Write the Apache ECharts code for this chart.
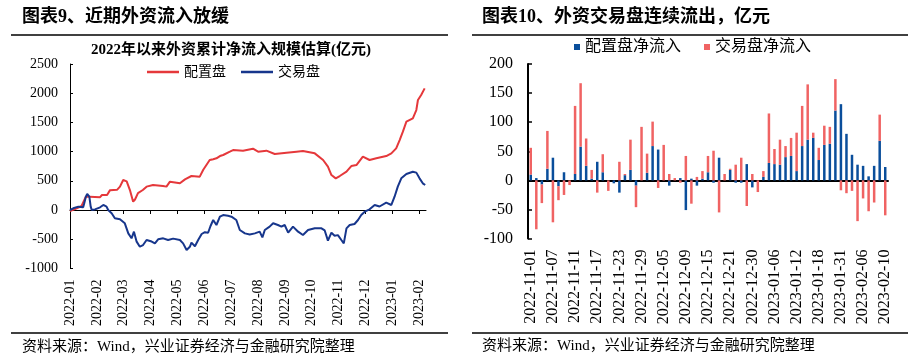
<!DOCTYPE html>
<html>
<head>
<meta charset="utf-8">
<script src="https://cdn.jsdelivr.net/npm/echarts@6/dist/echarts.min.js"></script>
<style>
html,body{margin:0;padding:0;background:#fff;}
#c{width:917px;height:362px;}
</style>
</head>
<body>
<div id="c"></div>
<script>
// ---------- Left chart: cumulative net inflow (x in month-tick units) ----------
const monthLabels = ['2022-01','2022-02','2022-03','2022-04','2022-05','2022-06','2022-07',
  '2022-08','2022-09','2022-10','2022-11','2022-12','2023-01','2023-02'];

const peizhiLine = [[0,-20],[0.25,29],[0.43,68],[0.59,228],[0.74,228],[1.12,220],[1.19,257],
  [1.38,257],[1.49,340],[1.75,345],[1.86,400],[1.98,514],[2.11,490],[2.23,342],[2.35,143],
  [2.42,180],[2.53,290],[2.71,342],[2.85,400],[3.09,428],[3.46,411],[3.59,400],[3.72,485],
  [3.97,468],[4.09,457],[4.28,525],[4.52,582],[4.83,571],[4.96,690],[5.20,856],[5.33,870],
  [5.45,885],[5.58,924],[5.70,942],[5.95,999],[6.07,1027],[6.44,1016],[6.81,1050],[7.00,999],
  [7.31,1016],[7.62,959],[8.06,982],[8.43,999],[8.67,1010],[9.11,970],[9.42,856],[9.60,742],
  [9.73,599],[9.89,542],[10.04,582],[10.29,656],[10.47,753],[10.66,770],[10.90,913],[11.15,856],
  [11.40,885],[11.77,924],[11.96,970],[12.14,1056],[12.27,1198],[12.39,1341],[12.52,1512],
  [12.76,1570],[12.89,1712],[12.95,1883],[13.07,1969],[13.20,2083]];

const jiaoyiLine = [[0,0],[0.12,29],[0.31,57],[0.49,46],[0.53,114],[0.59,228],[0.64,274],
  [0.72,228],[0.77,57],[0.81,0],[0.93,11],[1.12,46],[1.24,86],[1.36,57],[1.42,0],[1.55,-57],
  [1.67,-142],[1.86,-160],[2.04,-228],[2.17,-400],[2.29,-485],[2.38,-371],[2.48,-542],[2.60,-628],
  [2.72,-600],[2.85,-514],[3.04,-540],[3.16,-571],[3.28,-502],[3.47,-485],[3.65,-514],[3.84,-490],
  [4.09,-514],[4.21,-571],[4.34,-685],[4.46,-630],[4.52,-559],[4.65,-620],[4.77,-514],[4.90,-411],
  [5.02,-380],[5.14,-390],[5.23,-274],[5.33,-171],[5.45,-257],[5.58,-114],[5.70,-86],[5.88,-100],
  [6.01,-114],[6.19,-171],[6.32,-342],[6.51,-400],[6.69,-420],[6.88,-400],[7.06,-371],[7.16,-468],
  [7.25,-342],[7.43,-285],[7.56,-228],[7.74,-257],[7.87,-285],[7.99,-257],[8.12,-388],[8.30,-285],
  [8.49,-371],[8.67,-428],[8.86,-342],[9.11,-314],[9.36,-314],[9.48,-350],[9.60,-525],[9.73,-388],
  [9.85,-440],[9.97,-430],[10.10,-514],[10.19,-571],[10.29,-314],[10.41,-257],[10.59,-240],
  [10.72,-171],[10.84,-86],[10.97,-29],[11.15,11],[11.34,86],[11.52,60],[11.77,125],[11.96,86],
  [12.08,228],[12.20,400],[12.33,542],[12.52,616],[12.76,656],[12.89,640],[13.01,542],[13.13,457],
  [13.22,428]];

// ---------- Right chart: daily net flows ----------
const barDates = ['2022-11-01','2022-11-02','2022-11-03','2022-11-04','2022-11-07','2022-11-08',
  '2022-11-09','2022-11-10','2022-11-11','2022-11-14','2022-11-15','2022-11-16','2022-11-17',
  '2022-11-18','2022-11-21','2022-11-22','2022-11-23','2022-11-24','2022-11-25','2022-11-28',
  '2022-11-29','2022-11-30','2022-12-01','2022-12-02','2022-12-05','2022-12-06','2022-12-07',
  '2022-12-08','2022-12-09','2022-12-12','2022-12-13','2022-12-14','2022-12-15','2022-12-16',
  '2022-12-19','2022-12-20','2022-12-21','2022-12-22','2022-12-28','2022-12-29','2022-12-30',
  '2023-01-03','2023-01-04','2023-01-05','2023-01-06','2023-01-09','2023-01-10','2023-01-11',
  '2023-01-12','2023-01-13','2023-01-16','2023-01-17','2023-01-18','2023-01-19','2023-01-20',
  '2023-01-30','2023-01-31','2023-02-01','2023-02-02','2023-02-03','2023-02-06','2023-02-07',
  '2023-02-08','2023-02-09','2023-02-10'];

const peizhiBar = [10,4,-7,20,39,-10,14,0,11,58,25,3,32,14,0,-5,-21,9,18,-9,0,13,59,53,0,-9,0,4,
  -51,3,-9,3,14,-4,39,0,18,-4,-4,28,-12,0,6,30,28,27,40,42,16,59,70,73,35,61,63,120,131,80,44,
  27,25,7,25,68,23];

const jiaoyiBar = [46,-84,-32,65,-72,-24,-25,-8,117,109,47,15,-21,31,-18,0,32,2,52,-37,92,33,42,
  -13,61,11,4,-4,42,-40,6,13,28,51,-55,11,2,27,39,-44,11,-20,10,85,26,43,19,31,66,69,95,9,21,33,
  29,54,-17,-22,-18,-70,-31,-53,-38,45,-60];

const yTicksLeft = {min:-1000, max:2500, interval:500};
const yTicksRight = {min:-100, max:200, interval:50};

const FONT = "'Liberation Serif', 'Noto Sans CJK SC', serif";
const RED_LINE = '#E5383B', BLUE_LINE = '#17368C';
const BLUE_BAR = '#0A4E9B', RED_BAR = '#F06363';

const chart = echarts.init(document.getElementById('c'), null, {renderer:'canvas'});
const monthIdx = monthLabels.map((_, i) => i);
const plain = v => String(v);

const option = {
  animation: false,
  backgroundColor: '#fff',
  textStyle: {fontFamily: FONT, color: '#000'},
  grid: [
    {left: 70, top: 64, width: 356, height: 204.4},
    {left: 528, top: 64, width: 360, height: 174.6}
  ],
  legend: [
    {data: ['配置盘','交易盘'], left: 147, top: 65, padding: 0, icon: 'rect',
     itemWidth: 32, itemHeight: 2.5, itemGap: 15,
     textStyle: {fontSize: 14, fontFamily: FONT, color: '#000'}},
    {data: ['配置盘净流入','交易盘净流入'], left: 574, top: 39, padding: 0, icon: 'rect',
     itemWidth: 6, itemHeight: 6, itemGap: 23,
     textStyle: {fontSize: 16, fontFamily: FONT, color: '#000'}}
  ],
  xAxis: [
    {type: 'value', gridIndex: 0, min: 0, max: 13.25, position: 'bottom',
     axisLine: {show: false, onZero: false}, axisTick: {show: false}, splitLine: {show: false},
     axisLabel: {customValues: monthIdx, rotate: 90, margin: 11, fontSize: 14, fontFamily: FONT, color: '#000',
       formatter: v => monthLabels[Math.round(v)] || ''}},
    {type: 'value', gridIndex: 0, min: 0, max: 13.25,
     axisLine: {show: true, onZero: true, lineStyle: {color: '#000', width: 1}},
     axisTick: {show: true, inside: true, length: 4, customValues: monthIdx, lineStyle: {color: '#000'}},
     axisLabel: {show: false}, splitLine: {show: false}},
    {type: 'category', gridIndex: 1, data: barDates, position: 'bottom',
     axisLine: {show: false, onZero: false}, axisTick: {show: false},
     axisLabel: {interval: 3, rotate: 90, margin: 11, fontSize: 16, fontFamily: FONT, color: '#000'}},
    {type: 'category', gridIndex: 1, data: barDates,
     axisLine: {show: true, onZero: true, lineStyle: {color: '#000', width: 2}},
     axisTick: {show: false}, axisLabel: {show: false}}
  ],
  yAxis: [
    {type: 'value', gridIndex: 0, min: yTicksLeft.min, max: yTicksLeft.max, interval: yTicksLeft.interval,
     axisLine: {show: true, lineStyle: {color: '#000', width: 1}},
     axisTick: {show: true, inside: true, length: 3, lineStyle: {color: '#000'}},
     splitLine: {show: false},
     axisLabel: {margin: 12, fontSize: 14, fontFamily: FONT, color: '#000', formatter: plain}},
    {type: 'value', gridIndex: 1, min: yTicksRight.min, max: yTicksRight.max, interval: yTicksRight.interval,
     axisLine: {show: true, lineStyle: {color: '#000', width: 2}},
     axisTick: {show: true, inside: true, length: 4, lineStyle: {color: '#000', width: 1.5}},
     splitLine: {show: false},
     axisLabel: {margin: 15, fontSize: 16, fontFamily: FONT, color: '#000', formatter: plain}}
  ],
  series: [
    {name: '配置盘', type: 'line', xAxisIndex: 0, yAxisIndex: 0, data: peizhiLine,
     showSymbol: false, color: RED_LINE, lineStyle: {color: RED_LINE, width: 2}},
    {name: '交易盘', type: 'line', xAxisIndex: 0, yAxisIndex: 0, data: jiaoyiLine,
     showSymbol: false, color: BLUE_LINE, lineStyle: {color: BLUE_LINE, width: 2}},
    {name: '配置盘净流入', type: 'bar', xAxisIndex: 2, yAxisIndex: 1, stack: 'flow',
     data: peizhiBar, barWidth: 2.5, color: BLUE_BAR, itemStyle: {color: BLUE_BAR}},
    {name: '交易盘净流入', type: 'bar', xAxisIndex: 2, yAxisIndex: 1, stack: 'flow',
     data: jiaoyiBar, barWidth: 2.5, color: RED_BAR, itemStyle: {color: RED_BAR}}
  ],
  graphic: [
    {type: 'text', x: 22, y: 17, style: {text: '图表9、近期外资流入放缓', textVerticalAlign: 'middle',
      font: "bold 18px 'Liberation Serif', 'Noto Sans CJK SC'", fill: '#000'}},
    {type: 'text', x: 482, y: 17, style: {text: '图表10、外资交易盘连续流出，亿元', textVerticalAlign: 'middle',
      font: "bold 18px 'Liberation Serif', 'Noto Sans CJK SC'", fill: '#000'}},
    {type: 'line', shape: {x1: 11, y1: 35, x2: 448, y2: 35}, style: {stroke: '#000', lineWidth: 1.5}},
    {type: 'line', shape: {x1: 472, y1: 35, x2: 908, y2: 35}, style: {stroke: '#000', lineWidth: 1.5}},
    {type: 'text', x: 231, y: 50, style: {text: '2022年以来外资累计净流入规模估算(亿元)', textAlign: 'center',
      textVerticalAlign: 'middle', font: "bold 15px 'Liberation Serif', 'Noto Sans CJK SC'", fill: '#000'}},
    {type: 'line', shape: {x1: 11, y1: 333, x2: 448, y2: 333}, style: {stroke: '#000', lineWidth: 1.5}},
    {type: 'line', shape: {x1: 472, y1: 333, x2: 908, y2: 333}, style: {stroke: '#000', lineWidth: 1.5}},
    {type: 'text', x: 22, y: 347, style: {text: '资料来源：Wind，兴业证券经济与金融研究院整理', textVerticalAlign: 'middle',
      font: "15px 'Liberation Serif', 'Noto Sans CJK SC'", fill: '#000'}},
    {type: 'text', x: 482, y: 346, style: {text: '资料来源：Wind，兴业证券经济与金融研究院整理', textVerticalAlign: 'middle',
      font: "15px 'Liberation Serif', 'Noto Sans CJK SC'", fill: '#000'}}
  ]
};
chart.setOption(option);
</script>
</body>
</html>
